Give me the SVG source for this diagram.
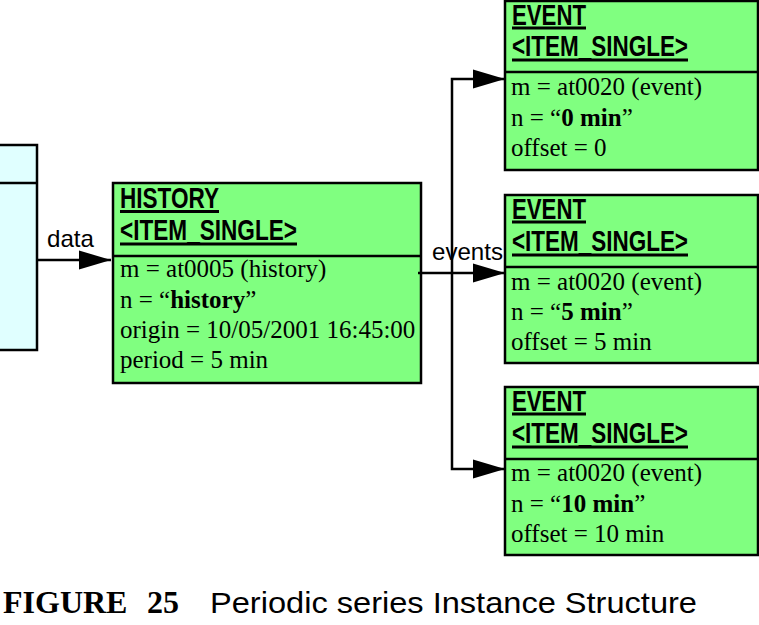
<svg xmlns="http://www.w3.org/2000/svg" width="759" height="625" viewBox="0 0 759 625">
<style>
.box{fill:#80FF80;stroke:#000;stroke-width:2.5}
.cyan{fill:#E0FFFF;stroke:#000;stroke-width:2.5}
.div{stroke:#000;stroke-width:2.5}
.ul{stroke:#000;stroke-width:2.8}
.ttl{font-family:"Liberation Sans",Arial,sans-serif;font-weight:bold;font-size:30px;fill:#000}
.body{font-family:"Liberation Serif","Times New Roman",serif;font-size:25px;fill:#000}
.b{font-weight:bold}
.lbl{font-family:"Liberation Sans",Arial,sans-serif;font-size:24px;fill:#000}
.conn{fill:none;stroke:#000;stroke-width:2.5}
</style>
<defs>
<marker id="ah" markerUnits="userSpaceOnUse" markerWidth="33" markerHeight="21" refX="32" refY="10" orient="auto" viewBox="0 0 33 21">
<path d="M0,0.5 L32,10 L0,19.5 z" fill="#000"/>
</marker>
</defs>

<g id="root-node">
<rect class="cyan" x="-3" y="145" width="40" height="205"/>
<line class="div" x1="-3" y1="183" x2="37" y2="183"/>
</g>

<g id="history">
<rect class="box" x="113" y="183" width="308" height="200"/>
<line class="div" x1="113" y1="256" x2="421" y2="256"/>
<text class="ttl" x="120" y="208" textLength="99" lengthAdjust="spacingAndGlyphs">HISTORY</text>
<line class="ul" x1="120" y1="211.5" x2="219" y2="211.5"/>
<text class="ttl" x="120" y="240" textLength="177" lengthAdjust="spacingAndGlyphs">&lt;ITEM_SINGLE&gt;</text>
<line class="ul" x1="120" y1="244" x2="297" y2="244"/>
<text class="body" x="120" y="277">m = at0005 (history)</text>
<text class="body" x="120" y="307.5">n = “<tspan class="b">history</tspan>”</text>
<text class="body" x="120" y="338">origin = 10/05/2001 16:45:00</text>
<text class="body" x="120" y="368">period = 5 min</text>
</g>

<g id="event-0">
<rect class="box" x="505" y="1" width="253" height="169"/>
<line class="div" x1="505" y1="72" x2="758" y2="72"/>
<text class="ttl" x="512" y="25" textLength="74" lengthAdjust="spacingAndGlyphs">EVENT</text>
<line class="ul" x1="512" y1="28" x2="586" y2="28"/>
<text class="ttl" x="512" y="56" textLength="176" lengthAdjust="spacingAndGlyphs">&lt;ITEM_SINGLE&gt;</text>
<line class="ul" x1="512" y1="60" x2="688" y2="60"/>
<text class="body" x="511" y="95">m = at0020 (event)</text>
<text class="body" x="511" y="126">n = “<tspan class="b">0 min</tspan>”</text>
<text class="body" x="511" y="156">offset = 0</text>
</g>

<g id="event-5">
<rect class="box" x="505" y="195" width="253" height="168"/>
<line class="div" x1="505" y1="267" x2="758" y2="267"/>
<text class="ttl" x="512" y="219" textLength="74" lengthAdjust="spacingAndGlyphs">EVENT</text>
<line class="ul" x1="512" y1="222" x2="586" y2="222"/>
<text class="ttl" x="512" y="251" textLength="176" lengthAdjust="spacingAndGlyphs">&lt;ITEM_SINGLE&gt;</text>
<line class="ul" x1="512" y1="255" x2="688" y2="255"/>
<text class="body" x="511" y="290">m = at0020 (event)</text>
<text class="body" x="511" y="320">n = “<tspan class="b">5 min</tspan>”</text>
<text class="body" x="511" y="350">offset = 5 min</text>
</g>

<g id="event-10">
<rect class="box" x="505" y="387" width="253" height="168"/>
<line class="div" x1="505" y1="459" x2="758" y2="459"/>
<text class="ttl" x="512" y="411" textLength="74" lengthAdjust="spacingAndGlyphs">EVENT</text>
<line class="ul" x1="512" y1="414" x2="586" y2="414"/>
<text class="ttl" x="512" y="443" textLength="176" lengthAdjust="spacingAndGlyphs">&lt;ITEM_SINGLE&gt;</text>
<line class="ul" x1="512" y1="447" x2="688" y2="447"/>
<text class="body" x="511" y="481">m = at0020 (event)</text>
<text class="body" x="511" y="512">n = “<tspan class="b">10 min</tspan>”</text>
<text class="body" x="511" y="542">offset = 10 min</text>
</g>

<g id="connectors">
<line class="conn" x1="37" y1="260" x2="111" y2="260" marker-end="url(#ah)"/>
<text class="lbl" x="47" y="247" textLength="47" lengthAdjust="spacingAndGlyphs">data</text>
<line class="conn" x1="418" y1="273" x2="505" y2="273" marker-end="url(#ah)"/>
<polyline class="conn" points="452,273 452,79 505,79" marker-end="url(#ah)"/>
<polyline class="conn" points="452,273 452,469 505,469" marker-end="url(#ah)"/>
<text class="lbl" x="432" y="260" textLength="71" lengthAdjust="spacingAndGlyphs">events</text>
</g>

<g id="caption">
<text x="3" y="613" font-family="'Liberation Serif','Times New Roman',serif" font-weight="bold" font-size="32">FIGURE <tspan x="147">25</tspan></text>
<text x="210" y="613" font-family="'Liberation Sans',Arial,sans-serif" font-size="30" textLength="487" lengthAdjust="spacingAndGlyphs">Periodic series Instance Structure</text>
</g>
</svg>
